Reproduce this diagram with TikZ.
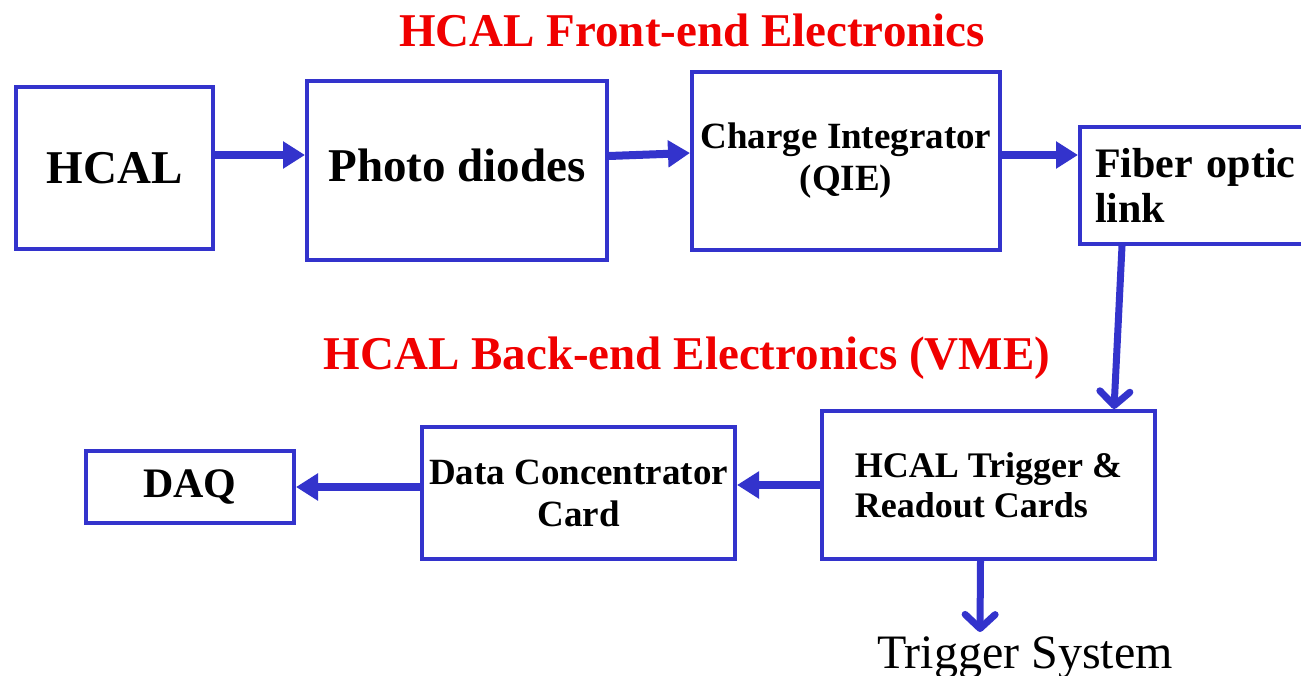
\documentclass[tikz,border=0pt]{standalone}
\usepackage{fontspec}
\setmainfont{Liberation Serif}
\usetikzlibrary{arrows.meta}
\definecolor{boxblue}{RGB}{51,51,204}
\definecolor{titlered}{RGB}{240,0,0}
\begin{document}
\begin{tikzpicture}[x=1pt, y=-1pt, font=\bfseries,
          box/.style={draw=boxblue, line width=4pt, align=center, inner sep=0pt},
          arr/.style={-{Triangle[length=22pt,width=26pt]}, draw=boxblue, line width=8pt},
          barb/.style={-{Straight Barb[round,length=14pt,width=30pt]}, draw=boxblue, line width=7pt, line cap=round},
          big/.style={font=\bfseries\fontsize{47}{52}\selectfont},
          mid/.style={font=\bfseries\fontsize{37}{42}\selectfont}]
        \useasboundingbox (0,0) rectangle (1301,676);
        \node[text=titlered, big] (front) at (692,30) {HCAL Front-end Electronics};
        \node[text=titlered, big] (back) at (687,358) {HCAL Back-end Electronics (VME)};
        \node[box, big, minimum width=197pt, minimum height=162pt] (hcal) at (114.5,168) {HCAL};
        \node[box, big, minimum width=300pt, minimum height=179pt] (pd) at (457,170.5) {\raisebox{10pt}{Photo diodes}};
        \node[box, mid, minimum width=308pt, minimum height=178pt] (qie) at (846,161) {Charge Integrator\\(QIE)};
        \node[box, font=\bfseries\fontsize{42}{45}\selectfont, align=left, inner xsep=15pt, text width=218pt, minimum height=117pt] (fib) at (1204,185.5) {Fiber optic\\link};
        \node[box, font=\bfseries\fontsize{36}{40}\selectfont, align=left, minimum width=333pt, minimum height=148pt] (trig) at (988.5,485) {HCAL Trigger \&\\Readout Cards};
        \node[box, mid, minimum width=313pt, minimum height=132pt] (dcc) at (578.5,493) {Data Concentrator\\Card};
        \node[box, font=\bfseries\fontsize{42}{45}\selectfont, minimum width=208pt, minimum height=72pt] (daq) at (190,487) {DAQ};
        \node[font=\fontsize{48}{52}\selectfont, inner sep=0pt, anchor=north] (sys) at (1025,637) {Trigger System};
        \draw[arr] ([yshift=13pt]hcal.east) -- ([yshift=13pt]hcal.east -| pd.west);
        \draw[arr] ([yshift=14.5pt]pd.east) -- ([yshift=8pt]qie.west);
        \draw[arr] ([yshift=6pt]qie.east) -- ([yshift=6pt]qie.east -| fib.west);
        \draw[barb] ([xshift=44pt]fib.south west) -- ([xshift=-43pt]trig.north east);
        \draw[arr] (trig.west) -- (trig.west -| dcc.east);
        \draw[arr] (dcc.west |- daq.east) -- (daq.east);
        \draw[barb] ([xshift=-8pt]trig.south) -- ([xshift=-45pt,yshift=5pt]sys.north);
      \end{tikzpicture}
\end{document}
